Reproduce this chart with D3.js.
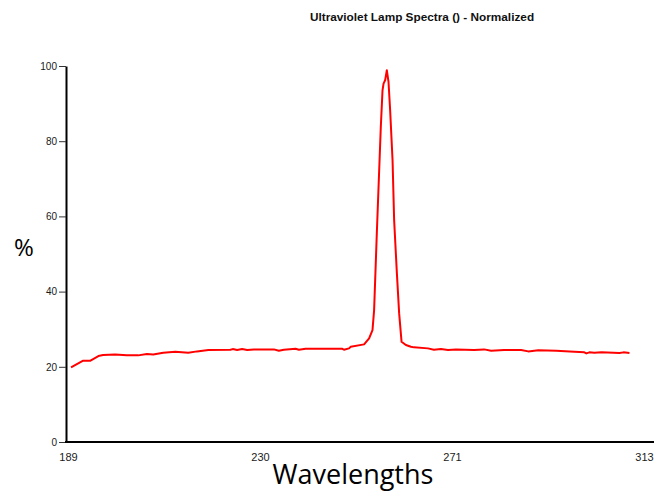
<!DOCTYPE html>
<html>
<head>
<meta charset="utf-8">
<script src="https://cdn.jsdelivr.net/npm/d3@7"></script>
<style>
  body { margin: 0; background: #fff; }
  svg { display: block; }
  .tick text { fill: #1a1a1a; font-family: "Liberation Sans", Arial, sans-serif; }
</style>
</head>
<body>
<svg id="chart"></svg>
<script>
// spectrum (wavelength in nm, normalized %)
const wavelengths = [189.65, 192.17, 193.75, 195.54, 196.55, 199.14, 201.67, 204.11, 205.99, 207.35,
    209.51, 212.1, 214.9, 216.78, 219.22, 223.97, 224.46, 225.41, 226.49, 227.57,
    229.0, 233.31, 234.39, 235.47, 237.99, 238.71, 240.15, 248.07, 248.42, 249.5,
    249.87, 252.74, 253.82, 254.55, 254.9, 255.48, 256.34, 256.71, 256.93, 257.27,
    257.64, 258.0, 258.35, 258.87, 259.21, 259.8, 260.29, 260.81, 261.74, 262.82,
    263.47, 266.49, 267.78, 269.29, 270.8, 272.53, 276.42, 278.58, 280.09, 282.89,
    286.56, 288.07, 290.23, 294.12, 298.0, 300.16, 300.59, 301.24, 302.32, 303.83,
    306.42, 307.71, 308.58, 309.87];
const percent = [19.85, 21.6, 21.6, 22.85, 23.12, 23.3, 23.04, 23.04, 23.39, 23.3,
    23.73, 24.0, 23.73, 24.1, 24.45, 24.53, 24.71, 24.45, 24.71, 24.45,
    24.63, 24.63, 24.26, 24.53, 24.79, 24.53, 24.79, 24.79, 24.53, 24.9,
    25.33, 25.96, 27.56, 29.76, 35.08, 55.46, 83.79, 93.54, 95.32, 96.2,
    98.86, 95.75, 88.23, 74.94, 59.0, 44.91, 34.2, 26.65, 25.78, 25.33,
    25.17, 24.9, 24.53, 24.71, 24.45, 24.63, 24.45, 24.63, 24.26, 24.45,
    24.45, 24.1, 24.37, 24.26, 24.0, 23.84, 23.57, 23.84, 23.73, 23.84,
    23.73, 23.65, 23.84, 23.65];

const xDomain = [189, 313];
const xTickLabels = ["189", "230", "271", "313"];
const yTicks = [0, 20, 40, 60, 80, 100];

const width = 654;
const height = 492;
const margin = {top: 66, right: 10, bottom: 50, left: 66};

const svg = d3.select("#chart")
    .attr("width", width)
    .attr("height", height);

const x = d3.scaleLinear()
    .domain(xDomain)
    .range([margin.left + 2, width - margin.right]);

const y = d3.scaleLinear()
    .domain([0, 100])
    .range([height - margin.bottom, margin.top]);

// title
svg.append("text")
    .attr("x", 422)
    .attr("y", 21)
    .attr("text-anchor", "middle")
    .style("font-family", "'Liberation Sans', Arial, sans-serif")
    .style("font-weight", "bold")
    .style("font-size", "11.8px")
    .style("fill", "#111")
    .text("Ultraviolet Lamp Spectra () - Normalized");

// y axis
const yAxis = svg.append("g")
    .attr("transform", `translate(${margin.left},0)`)
    .call(d3.axisLeft(y)
        .tickValues(yTicks)
        .tickSize(7)
        .tickSizeOuter(0)
        .tickPadding(2));
yAxis.select(".domain").attr("stroke", "#000").attr("stroke-width", 2);
yAxis.selectAll(".tick line").attr("stroke", "#333");
yAxis.selectAll(".tick text").style("font-size", "10px");

// x axis: evenly spaced ticks, labels truncated
const xTickValues = xTickLabels.map((d, i) => xDomain[0] + i * (xDomain[1] - xDomain[0]) / (xTickLabels.length - 1));
const xAxis = svg.append("g")
    .attr("transform", `translate(0,${y(0)})`)
    .call(d3.axisBottom(x)
        .tickValues(xTickValues)
        .tickFormat((d, i) => xTickLabels[i])
        .tickSize(0)
        .tickPadding(11));
xAxis.select(".domain").remove();
xAxis.selectAll(".tick text").style("font-size", "11px");

svg.append("line")
    .attr("x1", margin.left - 1)
    .attr("x2", width)
    .attr("y1", y(0))
    .attr("y2", y(0))
    .attr("stroke", "#000")
    .attr("stroke-width", 2);

// axis titles
svg.append("text")
    .attr("x", 353)
    .attr("y", 484)
    .attr("text-anchor", "middle")
    .style("font-family", "'Open Sans', sans-serif")
    .style("font-size", "27px")
    .style("fill", "#000")
    .text("Wavelengths");

svg.append("text")
    .attr("x", 24)
    .attr("y", 256)
    .attr("text-anchor", "middle")
    .style("font-family", "'Open Sans', sans-serif")
    .style("font-size", "24px")
    .style("fill", "#000")
    .text("%");

// spectrum line
const points = wavelengths.map((w, i) => [w, percent[i]]);
const line = d3.line()
    .x(d => x(d[0]))
    .y(d => y(d[1]));

svg.append("path")
    .datum(points)
    .attr("fill", "none")
    .attr("stroke", "#ff0000")
    .attr("stroke-width", 2)
    .attr("stroke-linejoin", "round")
    .attr("d", line);
</script>
</body>
</html>
